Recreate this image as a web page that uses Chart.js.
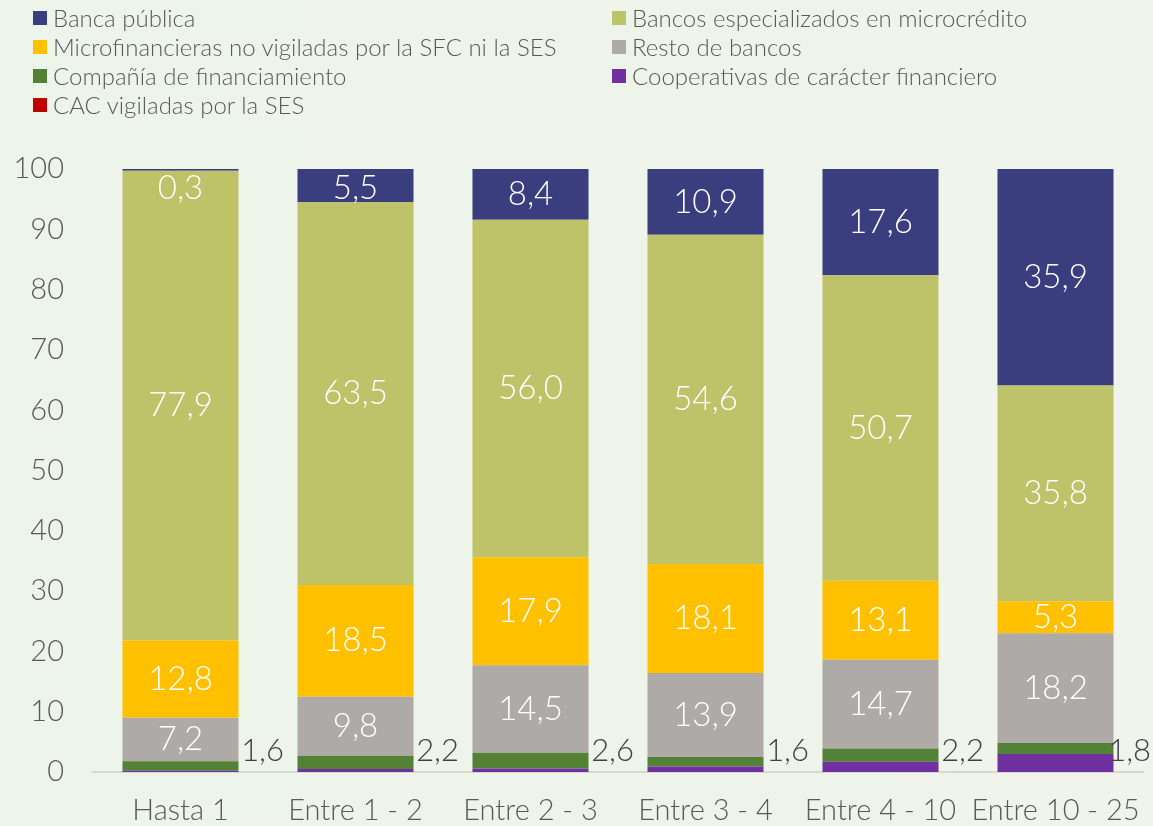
<!DOCTYPE html>
<html>
<head>
<meta charset="utf-8">
<script src="https://cdn.jsdelivr.net/npm/chart.js@4"></script>
<style>
  html, body { margin: 0; padding: 0; }
  body { width: 1153px; height: 826px; position: relative; overflow: hidden;
         background: linear-gradient(90deg, #edf4ea 0%, #eef4ea 60%, #f1f4ec 100%);
         font-family: Lato, "Open Sans", sans-serif; }
  #wrap { position: absolute; left: 0; top: 0; width: 1153px; height: 826px; }
  #legend { position: absolute; left: 33px; top: 3px; display: grid;
            grid-template-columns: 579px 520px; row-gap: 0; }
  .item { display: flex; align-items: center; height: 29px; font-size: 24px;
          font-weight: 300; color: #595959; white-space: nowrap; }
  .sw { width: 14px; height: 14px; margin-right: 6px; flex: none; }
</style>
</head>
<body>
<div id="wrap"><canvas id="chart" width="1153" height="826"></canvas></div>
<div id="legend"></div>
<script>
///////////////////////////-- DATA --///////////////////////////

let categories = ["Hasta 1", "Entre 1 - 2", "Entre 2 - 3", "Entre 3 - 4", "Entre 4 - 10", "Entre 10 - 25"];

let cacSes        = [0.0, 0.0, 0.0, 0.0, 0.0, 0.0];
let cooperativas  = [0.2, 0.5, 0.6, 0.9, 1.7, 3.0];
let companias     = [1.6, 2.2, 2.6, 1.6, 2.2, 1.8];
let restoBancos   = [7.2, 9.8, 14.5, 13.9, 14.7, 18.2];
let microNoVig    = [12.8, 18.5, 17.9, 18.1, 13.1, 5.3];
let especializados = [77.9, 63.5, 56.0, 54.6, 50.7, 35.8];
let bancaPublica  = [0.3, 5.5, 8.4, 10.9, 17.6, 35.9];

let yTicks = [0, 10, 20, 30, 40, 50, 60, 70, 80, 90, 100];

// legend order (top of stack first)
let series = [
  { label: "Banca pública", data: bancaPublica, color: "#3a3d7e", tag: "in" },
  { label: "Bancos especializados en microcrédito", data: especializados, color: "#bec268", tag: "in" },
  { label: "Microfinancieras no vigiladas por la SFC ni la SES", data: microNoVig, color: "#ffc000", tag: "in" },
  { label: "Resto de bancos", data: restoBancos, color: "#aeaaa8", tag: "in" },
  { label: "Compañía de financiamiento", data: companias, color: "#538135", tag: "out" },
  { label: "Cooperativas de carácter financiero", data: cooperativas, color: "#7030a0", tag: "" },
  { label: "CAC vigiladas por la SES", data: cacSes, color: "#c00000", tag: "" }
];

let fmt = (v) => v.toFixed(1).replace(".", ",");

// html legend, two columns
let legend = document.getElementById("legend");
series.forEach((s) => {
  let d = document.createElement("div");
  d.className = "item";
  d.innerHTML = '<span class="sw" style="background:' + s.color + '"></span>' + s.label;
  legend.appendChild(d);
});

// bottom of stack first for chart.js
let datasets = series.slice().reverse().map((s) => ({
  label: s.label,
  data: s.data,
  backgroundColor: s.color,
  borderWidth: 0,
  tag: s.tag,
  barPercentage: 0.663,
  categoryPercentage: 1.0
}));

let labelPlugin = {
  id: "labels",
  afterDatasetsDraw(chart) {
    let ctx = chart.ctx;
    let area = chart.chartArea;
    let base = chart.scales.y.getPixelForValue(0);
    ctx.save();
    ctx.textBaseline = "middle";
    chart.data.datasets.forEach((ds, i) => {
      let meta = chart.getDatasetMeta(i);
      meta.data.forEach((bar, j) => {
        let v = ds.data[j];
        if (ds.tag === "in") {
          let cy = Math.max((bar.y + bar.base) / 2, area.top + 19);
          ctx.font = "300 33px Lato, 'Open Sans', sans-serif";
          ctx.fillStyle = "#ffffff";
          ctx.textAlign = "center";
          ctx.fillText(fmt(v), bar.x, cy);
        } else if (ds.tag === "out") {
          ctx.font = "300 31px Lato, 'Open Sans', sans-serif";
          ctx.fillStyle = "#404040";
          ctx.textAlign = "center";
          let cx = bar.x + bar.width / 2 + 24;
          let w = ctx.measureText(fmt(v)).width;
          cx = Math.min(cx, chart.width - 2 - w / 2);
          ctx.fillText(fmt(v), cx, base - 21);
        }
      });
    });
    ctx.restore();
  }
};

let chart = new Chart("chart", {
  type: "bar",
  data: { labels: categories, datasets: datasets },
  options: {
    responsive: false,
    animation: false,
    layout: { padding: { top: 169, right: 10, left: 0, bottom: 0 } },
    plugins: { legend: { display: false }, tooltip: { enabled: false } },
    scales: {
      x: {
        stacked: true,
        grid: { display: false, drawTicks: false },
        border: { display: true, color: "#d4d8d0", width: 2 },
        ticks: { color: "#595959", font: { family: "Lato", size: 29, weight: "300" }, padding: 21 },
        afterFit: (s) => { s.height = 54; s.paddingLeft = 0; s.paddingRight = 0; }
      },
      y: {
        stacked: true,
        min: 0,
        max: 100,
        afterBuildTicks: (s) => { s.ticks = yTicks.map((v) => ({ value: v })); },
        grid: { display: false, drawTicks: false },
        border: { display: false },
        ticks: { color: "#595959", font: { family: "Lato", size: 29, weight: "300" }, padding: 29 },
        afterFit: (s) => { s.width = 93; s.paddingTop = 0; s.paddingBottom = 0; }
      }
    }
  },
  plugins: [labelPlugin]
});
</script>
</body>
</html>
